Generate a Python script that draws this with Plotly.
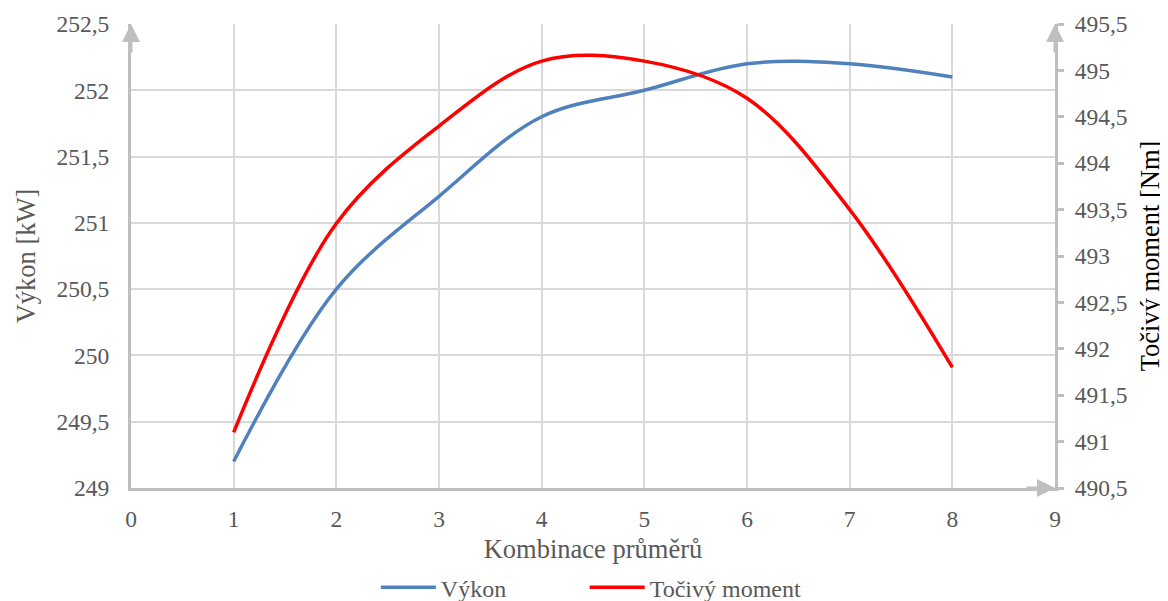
import plotly.graph_objects as go

x_vals = [1, 2, 3, 4, 5, 6, 7, 8]
vykon = [249.2, 250.5, 251.2, 251.8, 252.0, 252.2, 252.2, 252.1]
moment = [491.1, 493.35, 494.4, 495.1, 495.1, 494.7, 493.5, 491.8]

x_ticks = list(range(0, 10))
left_ticks = [249 + 0.5 * i for i in range(8)]
right_ticks = [490.5 + 0.5 * i for i in range(11)]


def fmt(v):
    return f"{v:g}".replace(".", ",")


FONT = "Liberation Serif"
GRAY = "#595959"
AXIS = "#bfbfbf"
GRID = "#d9d9d9"
TICK = dict(family=FONT, size=23.5, color=GRAY)

fig = go.Figure()
fig.add_trace(go.Scatter(x=x_vals, y=vykon, name="Výkon", mode="lines", legend="legend",
                         line=dict(color="#4f81bd", width=3.5, shape="spline", smoothing=1.0)))
fig.add_trace(go.Scatter(x=x_vals, y=moment, name="Točivý moment", mode="lines",
                         yaxis="y2", legend="legend2",
                         line=dict(color="#ff0000", width=3.5, shape="spline", smoothing=1.0)))

LEG = dict(orientation="h", xanchor="left", y=-0.215, yanchor="middle",
           font=dict(family=FONT, size=24, color=GRAY), itemwidth=55, bgcolor="rgba(0,0,0,0)")

# the page body adds an 8px offset, so the figure is 8px smaller and margins shifted
fig.update_layout(
    width=1160, height=593,
    margin=dict(l=123, r=113, t=16, b=113, autoexpand=False),
    paper_bgcolor="white", plot_bgcolor="white",
    font=dict(family=FONT, size=23.5, color=GRAY),
    showlegend=True,
    legend=dict(x=0.265, **LEG),
    legend2=dict(x=0.491, **LEG),
    xaxis=dict(range=[0, 9], tickvals=x_ticks, ticktext=[fmt(v) for v in x_ticks],
               showgrid=True, gridcolor=GRID, gridwidth=1.5, automargin=False,
               showline=True, linecolor=AXIS, linewidth=3, zeroline=False,
               ticks="", ticklabelstandoff=8, tickfont=TICK,
               title=dict(text="Kombinace průměrů", font=dict(family=FONT, size=26.5, color=GRAY), standoff=9)),
    yaxis=dict(range=[249, 252.5], tickvals=left_ticks, ticktext=[fmt(v) for v in left_ticks],
               showgrid=True, gridcolor=GRID, gridwidth=1.5, automargin=False,
               showline=True, linecolor=AXIS, linewidth=3, zeroline=False,
               ticks="", ticklabelstandoff=14, tickfont=TICK,
               title=dict(text="Výkon [kW]", font=dict(family=FONT, size=26.5, color=GRAY), standoff=14)),
    yaxis2=dict(range=[490.5, 495.5], tickvals=right_ticks, ticktext=[fmt(v) for v in right_ticks],
                overlaying="y", side="right", showgrid=False, automargin=False,
                showline=True, linecolor=AXIS, linewidth=3, zeroline=False,
                ticks="outside", ticklen=6, tickwidth=3, tickcolor=AXIS, ticklabelstandoff=6,
                tickfont=TICK,
                title=dict(text="Točivý moment [Nm]", font=dict(family=FONT, size=26.5, color="#000000"), standoff=14)),
)

arrow = dict(xref="paper", yref="paper", text="", showarrow=True, arrowhead=2,
             arrowsize=1.2, arrowwidth=3, arrowcolor=AXIS, standoff=0)
fig.add_annotation(x=0, y=1, ax=0, ay=30, **arrow)
fig.add_annotation(x=1, y=1, ax=0, ay=30, **arrow)
fig.add_annotation(x=1, y=0, ax=-30, ay=0, **arrow)

fig.write_html("out.html")
